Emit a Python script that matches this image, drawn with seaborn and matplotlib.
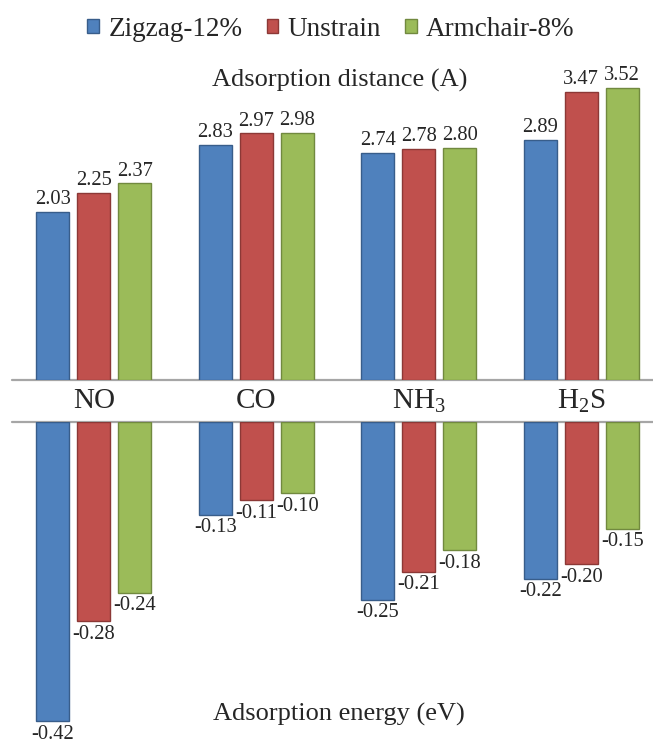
import seaborn as sns
import pandas as pd
import matplotlib.pyplot as plt
import matplotlib.transforms as mtransforms

gases = ['NO', 'CO', 'NH3', 'H2S']
gas_labels = ['NO', 'CO', r'NH$_\mathregular{3}$', r'H$_\mathregular{2}$S']
strains = ['Zigzag-12%', 'Unstrain', 'Armchair-8%']

zigzag_dist = [2.03, 2.83, 2.74, 2.89]
unstrain_dist = [2.25, 2.97, 2.78, 3.47]
armchair_dist = [2.37, 2.98, 2.80, 3.52]

zigzag_energy = [-0.42, -0.13, -0.25, -0.22]
unstrain_energy = [-0.28, -0.11, -0.21, -0.20]
armchair_energy = [-0.24, -0.10, -0.18, -0.15]

fills = ['#4F81BD', '#C0504D', '#9BBB59']
edges = ['#385D8A', '#8C3836', '#71893F']

rows = []
for strain, dist, energy in zip(strains,
                                [zigzag_dist, unstrain_dist, armchair_dist],
                                [zigzag_energy, unstrain_energy, armchair_energy]):
    for g, d, e in zip(gases, dist, energy):
        rows.append({'gas': g, 'strain': strain, 'distance': d, 'energy': e})
df = pd.DataFrame(rows)

sns.set_style('white')
plt.rcParams['font.family'] = ['Liberation Serif', 'DejaVu Serif']
plt.rcParams['mathtext.fontset'] = 'custom'
plt.rcParams['mathtext.rm'] = 'Liberation Serif'

W, H = 653, 745
fig = plt.figure(figsize=(W / 100, H / 100), dpi=100)

left = 12.5 / W
ax_top = fig.add_axes([left, (H - 380) / H, 1 - left, 330 / H])
ax_bot = fig.add_axes([left, 0, 1 - left, (H - 422) / H])

xlim = (-0.5, -0.5 + (W - 12.5) / 162.5)

for ax, col, ylim, pad in [(ax_top, 'distance', (0, 330 / 83), 2),
                           (ax_bot, 'energy', (-323 / 712, 0), 2.5)]:
    sns.barplot(data=df, x='gas', y=col, hue='strain', order=gases,
                hue_order=strains, palette=fills, saturation=1,
                width=0.757, gap=0.195, errorbar=None, legend=False, ax=ax)
    for cont, ec in zip(ax.containers, edges):
        for p in cont.patches:
            p.set_edgecolor(ec)
            p.set_linewidth(1.0)
        ax.bar_label(cont, fmt='%.2f', fontsize=14.8, padding=pad)
    ax.axhline(0, color='#A6A6A6', lw=1.6, clip_on=False, zorder=0)
    ax.set_xlim(*xlim)
    ax.set_ylim(*ylim)
    ax.set_xticks([])
    ax.set_yticks([])
    ax.set_xlabel('')
    ax.set_ylabel('')
    sns.despine(ax=ax, left=True, bottom=True)
    ax.patch.set_alpha(0)

trans = mtransforms.blended_transform_factory(ax_top.transData, fig.transFigure)
for i, lab in enumerate(gas_labels):
    ax_top.text(i, 1 - 401 / H, lab, transform=trans, ha='center',
                va='center', fontsize=21, clip_on=False)

fig.text(340 / W, 1 - 80 / H, 'Adsorption distance (A)', ha='center',
         va='center', fontsize=19)
fig.text(339 / W, 1 - 714 / H, 'Adsorption energy (eV)', ha='center',
         va='center', fontsize=19)

handles = [c.patches[0] for c in ax_top.containers]
fig.legend(handles, strains, loc='center', bbox_to_anchor=(331 / W, 1 - 29 / H),
           ncol=3, frameon=False, fontsize=19.5, handlelength=0.42,
           handleheight=0.42, handletextpad=0.35, columnspacing=0.9)

fig.savefig('out.png', dpi=100)
